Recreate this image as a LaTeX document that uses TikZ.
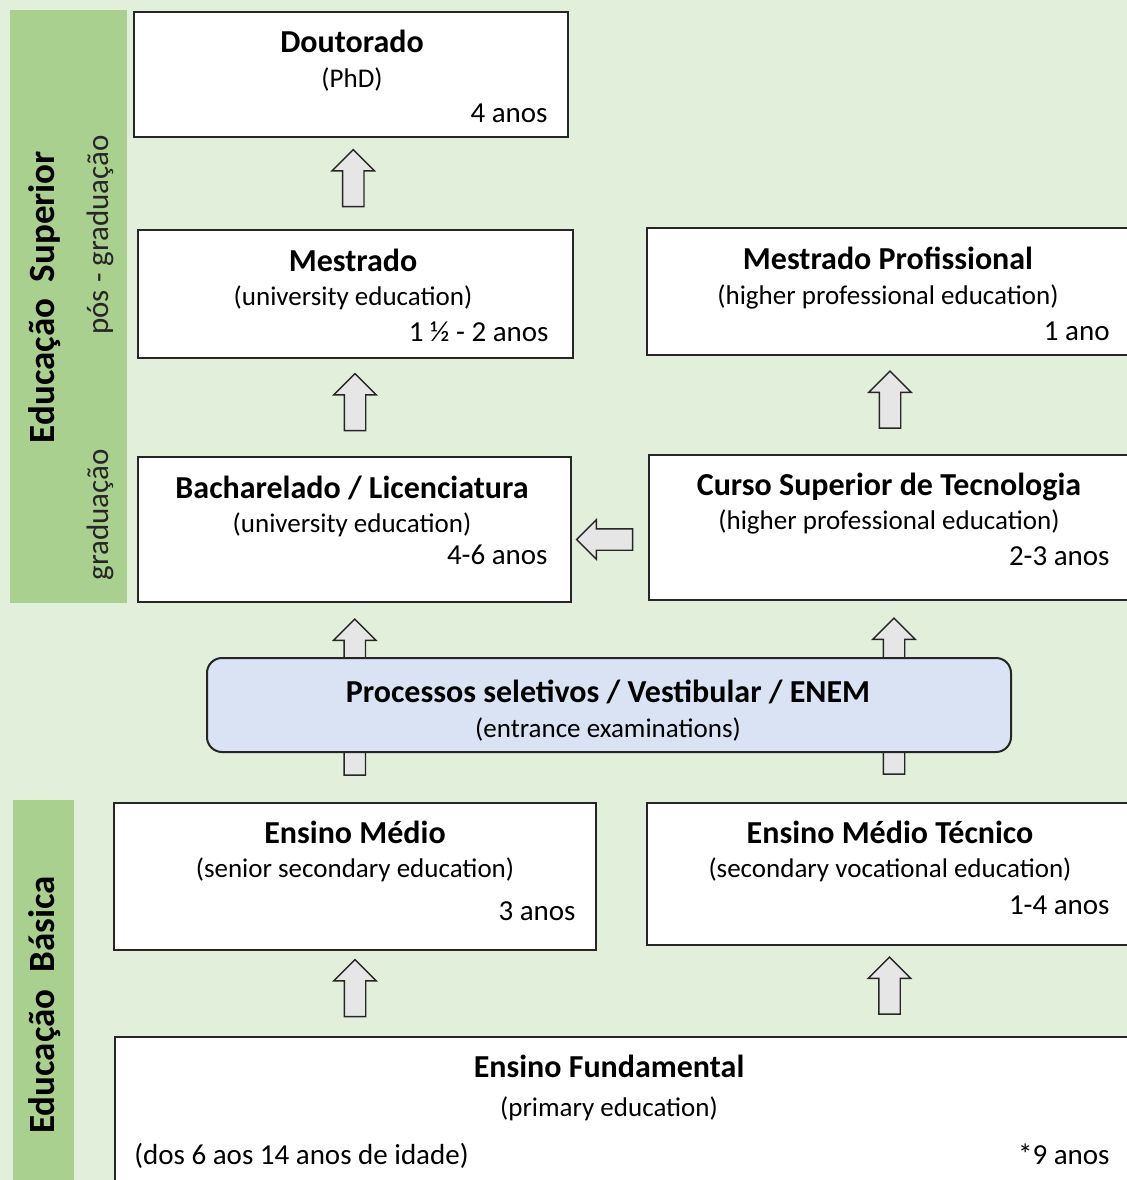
\documentclass[tikz,border=0pt]{standalone}
\usepackage{fontspec}
\setmainfont{Carlito}
\usetikzlibrary{shapes.arrows,positioning}

\definecolor{bggreen}{HTML}{E2EFDA}
\definecolor{bargreen}{HTML}{A9D08E}
\definecolor{examblue}{HTML}{DAE3F3}
\definecolor{arrowgray}{HTML}{E7E6E6}
\definecolor{lineblack}{HTML}{262626}

\tikzset{
  level/.style={draw=lineblack, line width=1pt, fill=white, inner sep=0pt},
  lvltitle/.style={anchor=base, inner sep=0pt, font=\fontsize{16pt}{19pt}\selectfont\bfseries},
  lvlsub/.style={anchor=base, inner sep=0pt, font=\fontsize{13.5pt}{16pt}\selectfont},
  lvlyears/.style={anchor=base east, inner sep=0pt, font=\fontsize{14.5pt}{17pt}\selectfont},
  side/.style={rotate=90, font=\fontsize{18.5pt}{22pt}\selectfont\bfseries},
  sidesub/.style={rotate=90, text=lineblack, font=\fontsize{15.5pt}{18pt}\selectfont},
  upblock/.style={single arrow, draw=lineblack, line width=0.7pt, fill=arrowgray,
    inner sep=5pt, single arrow head extend=5.25pt, minimum height=28.5pt,
    shape border rotate=90},
}

\begin{document}
\begin{tikzpicture}[x=0.5pt,y=-0.5pt]

   \useasboundingbox (0,0) rectangle (1127,1180);
   \clip (0,0) rectangle (1127,1180);
   \fill [bggreen] (0,0) rectangle (1127,1180);

   % side bars
   \fill [bargreen] (10,10) rectangle (127,603);
   \fill [bargreen] (13,800) rectangle (74,1180);
   \node (Superior) at (45,297) [side] {Educação~~Superior};
   \node (PosGrad) at (100,235) [sidesub] {pós - graduação};
   \node (Grad) at (100,515) [sidesub] {graduação};
   \node (Basica) at (45,1005) [side] {Educação~~Básica};

   % boxes
   \node (Doutorado) at (351,74.5) [level, minimum width=217pt, minimum height=62.5pt] {};
   \node (Mestrado) at (355.5,294) [level, minimum width=217.5pt, minimum height=64pt] {};
   \node (MestProf) at (889.5,291.5) [level, minimum width=242.5pt, minimum height=63.5pt] {};
   \node (Bach) at (354.5,529.5) [level, minimum width=216.5pt, minimum height=72.5pt] {};
   \node (Curso) at (890.5,527.5) [level, minimum width=241.5pt, minimum height=72.5pt] {};
   \node (Medio) at (355,876.5) [level, minimum width=241pt, minimum height=73.5pt] {};
   \node (Tecnico) at (889.5,874) [level, minimum width=242.5pt, minimum height=71pt] {};
   \node (Fund) at (625,1113.5) [level, minimum width=510pt, minimum height=76.5pt] {};

   \node (DoutT) at (352,52) [lvltitle] {Doutorado};
   \node (DoutS) at (352,87) [lvlsub] {(PhD)};
   \node (DoutY) at (548,122) [lvlyears] {4 anos};

   \node (MestT) at (353,271) [lvltitle] {Mestrado};
   \node (MestS) at (353,305) [lvlsub] {(university education)};
   \node (MestY) at (549,341) [lvlyears] {1 ½ - 2 anos};

   \node (MestProfT) at (888,269) [lvltitle] {Mestrado Profissional};
   \node (MestProfS) at (888,304) [lvlsub] {(higher professional education)};
   \node (MestProfY) at (1110,340) [lvlyears] {1 ano};

   \node (BachT) at (352,498) [lvltitle] {Bacharelado / Licenciatura};
   \node (BachS) at (352,532) [lvlsub] {(university education)};
   \node (BachY) at (548,564) [lvlyears] {4-6 anos};

   \node (CursoT) at (889,495) [lvltitle] {Curso Superior de Tecnologia};
   \node (CursoS) at (889,529) [lvlsub] {(higher professional education)};
   \node (CursoY) at (1110,565) [lvlyears] {2-3 anos};

   \node (MedioT) at (355,843) [lvltitle] {Ensino Médio};
   \node (MedioS) at (355,877) [lvlsub] {(senior secondary education)};
   \node (MedioY) at (576,920) [lvlyears] {3 anos};

   \node (TecnicoT) at (890,843) [lvltitle] {Ensino Médio Técnico};
   \node (TecnicoS) at (890,877) [lvlsub] {(secondary vocational education)};
   \node (TecnicoY) at (1110,914) [lvlyears] {1-4 anos};

   \node (FundT) at (609,1077) [lvltitle] {Ensino Fundamental};
   \node (FundS) at (609,1116) [lvlsub] {(primary education)};
   \node (FundA) at (134,1164) [lvlyears, anchor=base west] {(dos 6 aos 14 anos de idade)};
   \node (FundY) at (1110,1164) [lvlyears] {*9 anos};

   % arrows
   \path (Mestrado.north) -- (Doutorado.south) node [midway, upblock] {};
   \path (Bach.north) -- (Mestrado.south) node [midway, upblock] {};
   \path (Curso.north) -- (MestProf.south) node [midway, upblock] {};
   \path (Curso.west) -- (Bach.east) node [midway, upblock, shape border rotate=180,
      single arrow head extend=4.5pt, minimum height=28pt, yshift=-5.5pt] {};
   \path (Medio.north) -- (Bach.south) node [midway, upblock, minimum height=78pt] {};
   \path (Tecnico.north) -- (Curso.south) node [midway, upblock, minimum height=78pt, xshift=2pt] {};
   \path (Fund.north -| Medio.south) -- (Medio.south) node [midway, upblock] {};
   \path (Fund.north -| Tecnico.south) -- (Tecnico.south) node [midway, upblock] {};

   % entrance exams
   \node (Proc) at (609,705) [level, fill=examblue, rounded corners=7.5pt,
      minimum width=402pt, minimum height=47pt] {};
   \node (ProcT) at (608,702) [lvltitle] {Processos seletivos / Vestibular / ENEM};
   \node (ProcS) at (608,737) [lvlsub] {(entrance examinations)};

\end{tikzpicture}
\end{document}
